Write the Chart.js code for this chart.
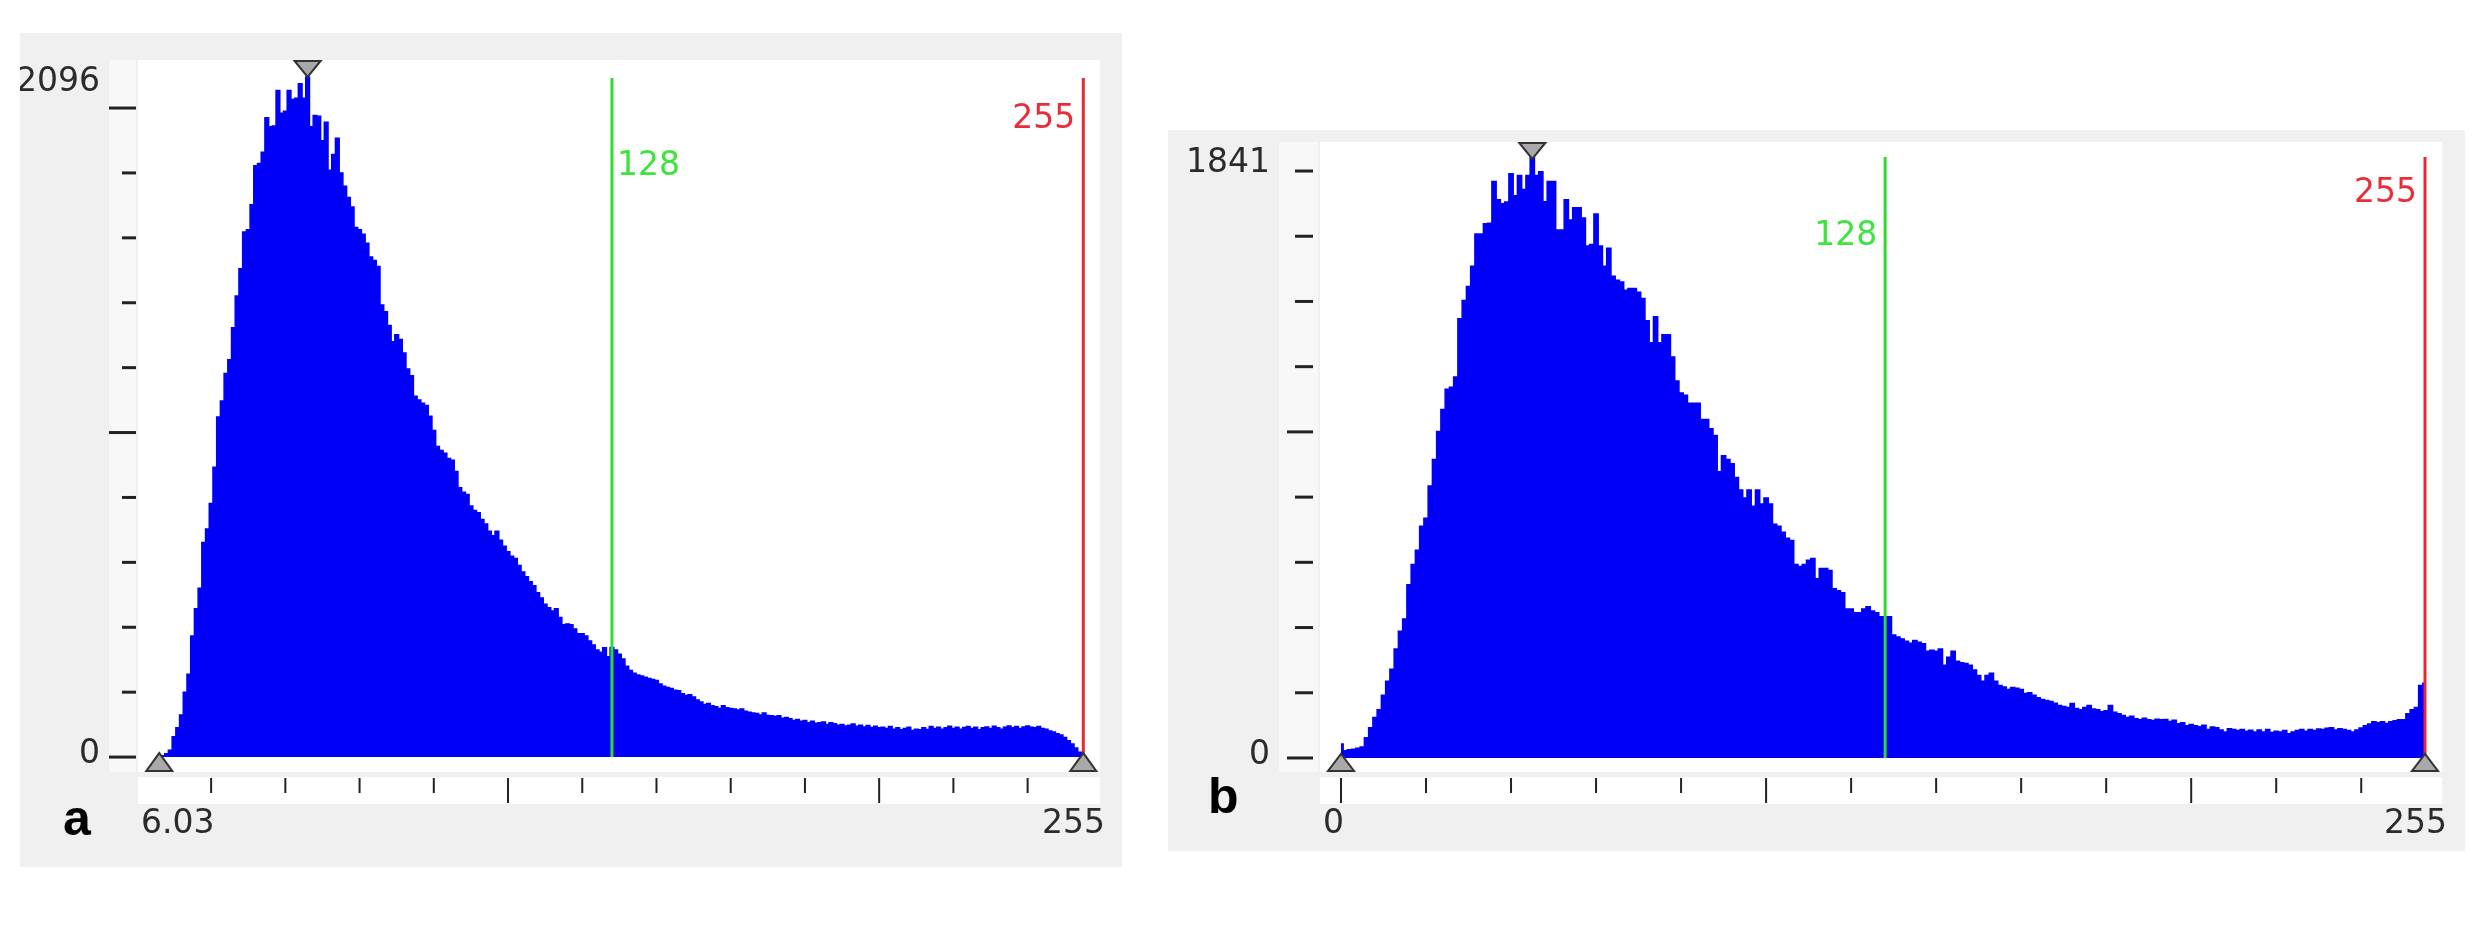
<!DOCTYPE html>
<html lang="en">
<head>
<meta charset="UTF-8">
<title>Histograms a and b</title>
<script src="https://cdn.jsdelivr.net/npm/chart.js"></script>
<style>
  body { margin: 0; width: 2473px; height: 925px; background: #fff; position: relative; overflow: hidden; }
  .panel { position: absolute; background: #f0f0f0; }
  .panel canvas { position: absolute; left: 0; top: 0; }
  .tag { position: absolute; font: bold 50px "Liberation Sans", Arial, sans-serif; line-height: 1; color: #000; }
</style>
</head>
<body>
<div class="panel" style="left:20px;top:33px;width:1102px;height:834px"><canvas id="chartA" width="1102" height="834"></canvas></div>
<div class="panel" style="left:1168px;top:130px;width:1297px;height:721px"><canvas id="chartB" width="1297" height="721"></canvas></div>
<div class="tag" style="left:63px;top:793px">a</div>
<div class="tag" style="left:1208px;top:771px">b</div>
<script>
// ---- data ----
// panel a: grey levels 6..255
const firstLevelA = 6;
const countsA = [
  0, 4, 10, 21, 63, 90, 130, 200, 255, 373,
  457, 520, 661, 703, 781, 893, 1048, 1097, 1182, 1224,
  1323, 1421, 1505, 1618, 1625, 1702, 1822, 1829, 1864, 1970,
  1942, 1945, 2054, 1984, 1990, 2054, 2026, 2030, 2075, 2030,
  2096, 1942, 1977, 1975, 1899, 1956, 1808, 1857, 1907, 1800,
  1759, 1724, 1695, 1632, 1625, 1611, 1583, 1541, 1530, 1512,
  1393, 1372, 1330, 1280, 1301, 1287, 1245, 1196, 1175, 1112,
  1100, 1090, 1083, 1050, 1006, 957, 945, 936, 920, 915,
  880, 830, 816, 809, 774, 760, 753, 732, 718, 696,
  682, 696, 668, 650, 633, 619, 612, 590, 570, 556,
  540, 528, 506, 490, 471, 460, 450, 457, 430, 408,
  410, 408, 395, 380, 380, 373, 358, 345, 330, 323,
  337, 309, 338, 330, 317, 302, 280, 267, 258, 253,
  250, 246, 242, 239, 236, 225, 218, 214, 211, 206,
  204, 195, 190, 192, 185, 176, 170, 162, 165, 158,
  155, 150, 158, 152, 150, 148, 145, 148, 141, 138,
  136, 134, 130, 136, 128, 127, 125, 127, 120, 122,
  118, 113, 116, 110, 113, 106, 110, 104, 106, 108,
  100, 106, 103, 98, 100, 96, 98, 102, 95, 98,
  93, 97, 91, 95, 90, 92, 88, 94, 86, 90,
  84, 88, 92, 82, 86, 84, 90, 85, 94, 88,
  92, 86, 90, 95, 88, 92, 86, 91, 94, 88,
  92, 84, 90, 93, 88, 95, 90, 86, 92, 96,
  90, 94, 88, 93, 96, 92, 90, 94, 88, 86,
  80, 77, 72, 68, 60, 50, 40, 28, 15, 4
];
// panel b: grey levels 0..255
const firstLevelB = 0;
const countsB = [
  43, 22, 25, 27, 30, 34, 62, 93, 124, 148,
  192, 235, 272, 334, 389, 426, 531, 593, 637, 711,
  735, 834, 915, 1001, 1069, 1131, 1137, 1168, 1347, 1403,
  1446, 1508, 1607, 1607, 1638, 1640, 1768, 1712, 1700, 1705,
  1792, 1724, 1786, 1743, 1786, 1841, 1786, 1798, 1706, 1768,
  1768, 1619, 1619, 1712, 1650, 1687, 1687, 1656, 1570, 1575,
  1668, 1570, 1508, 1563, 1477, 1465, 1460, 1434, 1440, 1440,
  1428, 1409, 1341, 1273, 1353, 1273, 1298, 1298, 1230, 1156,
  1119, 1112, 1088, 1088, 1088, 1038, 1038, 1010, 989, 878,
  927, 915, 902, 860, 822, 797, 822, 772, 822, 779,
  797, 779, 717, 711, 692, 674, 667, 593, 587, 593,
  606, 612, 550, 581, 581, 575, 519, 513, 507, 457,
  457, 445, 445, 457, 464, 451, 445, 433, 433, 433,
  377, 371, 365, 358, 352, 360, 355, 350, 327, 330,
  327, 334, 284, 309, 327, 297, 292, 290, 284, 270,
  253, 235, 253, 260, 235, 222, 218, 210, 216, 214,
  210, 198, 200, 192, 185, 179, 176, 173, 168, 161,
  158, 155, 167, 152, 148, 155, 161, 150, 148, 142,
  145, 161, 140, 136, 130, 124, 128, 120, 117, 122,
  117, 115, 119, 117, 118, 112, 116, 105, 108, 99,
  103, 99, 96, 100, 87, 95, 93, 86, 80, 90,
  87, 84, 87, 82, 85, 80, 86, 80, 87, 78,
  82, 80, 84, 74, 80, 84, 87, 82, 87, 84,
  89, 87, 91, 93, 86, 90, 87, 84, 80, 86,
  92, 99, 104, 111, 108, 111, 106, 111, 114, 117,
  117, 136, 148, 155, 222, 229
];

// axis ticks and labels
const yTicksA = [0, 200, 400, 600, 800, 1000, 1200, 1400, 1600, 1800, 2000];
const yTicksB = [0, 200, 400, 600, 800, 1000, 1200, 1400, 1600, 1800];
const yMajor = [0, 1000, 2000];
const xTicksA = [20, 40, 60, 80, 100, 120, 140, 160, 180, 200, 220, 240];
const xTicksB = [0, 20, 40, 60, 80, 100, 120, 140, 160, 180, 200, 220, 240];
const xMajor = [0, 100, 200];
const xRangeA = [6.03, 255];
const xRangeB = [0, 255];
const xEdgeLabelsA = ['6.03', '255'];
const xEdgeLabelsB = ['0', '255'];
const thresholds = [128, 255];

const BLUE = 'rgb(0, 0, 248)';
const FONT = '33px "DejaVu Sans", "Liberation Sans", sans-serif';

function triangle(ctx, cx, y1, y2, half) {
  // flat side at y1, tip at y2
  ctx.beginPath();
  ctx.moveTo(cx - half, y1);
  ctx.lineTo(cx + half, y1);
  ctx.lineTo(cx, y2);
  ctx.closePath();
  ctx.fillStyle = '#a9a9a9';
  ctx.fill();
  ctx.strokeStyle = '#333';
  ctx.lineWidth = 2;
  ctx.stroke();
}

// draws the panel frame, ticks, threshold lines and markers around the histogram
const histDecor = {
  id: 'histDecor',
  beforeDraw(chart, args, o) {
    const { ctx, chartArea: a } = chart;
    ctx.save();
    ctx.fillStyle = '#f0f0f0';
    ctx.fillRect(0, 0, chart.width, chart.height);
    ctx.fillStyle = '#f8f8f8';
    ctx.fillRect(a.left - o.yStrip, a.top, o.yStrip - 2, a.bottom - a.top);
    ctx.fillStyle = '#ffffff';
    ctx.fillRect(a.left, a.top, a.right - a.left, a.bottom - a.top);
    ctx.fillRect(a.left, a.bottom + 5, a.right - a.left, 27);
    ctx.restore();
  },
  afterDatasetsDraw(chart, args, o) {
    const { ctx, chartArea: a, scales: { x, y } } = chart;
    const base = y.getPixelForValue(0);
    ctx.save();

    // y ticks
    ctx.strokeStyle = '#222';
    ctx.lineWidth = 3;
    o.yTicks.forEach(v => {
      const py = y.getPixelForValue(v);
      const len = yMajor.includes(v) ? o.yLong : o.yShort;
      ctx.beginPath();
      ctx.moveTo(a.left - o.yGap - len, py);
      ctx.lineTo(a.left - o.yGap, py);
      ctx.stroke();
    });

    // x ticks in the strip below
    ctx.lineWidth = 2;
    o.xTicks.forEach(v => {
      const px = x.getPixelForValue(v);
      const len = xMajor.includes(v) ? 25 : 15;
      ctx.beginPath();
      ctx.moveTo(px, a.bottom + 6);
      ctx.lineTo(px, a.bottom + 6 + len);
      ctx.stroke();
    });

    // threshold lines
    ctx.font = FONT;
    ctx.textBaseline = 'top';
    thresholds.forEach((v, i) => {
      const st = o.lines[i];
      const px = x.getPixelForValue(v);
      ctx.strokeStyle = st.color;
      ctx.lineWidth = 3;
      ctx.beginPath();
      ctx.moveTo(px, a.top + o.lineTop);
      ctx.lineTo(px, base);
      ctx.stroke();
      ctx.fillStyle = st.text;
      ctx.textAlign = st.side === 'right' ? 'left' : 'right';
      ctx.fillText(String(v), px + (st.side === 'right' ? 5 : -8), a.top + st.dy);
    });

    // markers: peak at top, range ends at bottom
    const counts = o.counts;
    const max = Math.max(...counts);
    const peakX = x.getPixelForValue(o.first + counts.indexOf(max));
    triangle(ctx, peakX, a.top + 1, a.top + 17, 13);
    o.range.forEach(v => {
      triangle(ctx, x.getPixelForValue(v), a.bottom - 1, base - 4, 13);
    });

    // labels
    ctx.fillStyle = '#2b2b2b';
    ctx.textBaseline = 'middle';
    ctx.textAlign = 'right';
    ctx.fillText(String(max), a.left - o.labelGap, y.getPixelForValue(max) + 6);
    ctx.fillText('0', a.left - o.labelGap, base - 3);
    ctx.textAlign = 'left';
    ctx.fillText(o.edgeLabels[0], a.left + 3, a.bottom + 52);
    ctx.textAlign = 'right';
    ctx.fillText(o.edgeLabels[1], a.right + 5, a.bottom + 52);
    ctx.restore();
  }
};

function makeHistogram(id, first, counts, opts) {
  const points = counts.map((c, i) => ({ x: first + i, y: c }));
  return new Chart(document.getElementById(id), {
    type: 'line',
    data: {
      datasets: [{
        data: points,
        stepped: 'middle',
        fill: 'origin',
        backgroundColor: BLUE,
        borderColor: BLUE,
        borderWidth: 1.5,
        pointRadius: 0
      }]
    },
    options: {
      responsive: false,
      animation: false,
      devicePixelRatio: 1,
      layout: { padding: opts.padding },
      plugins: {
        legend: { display: false },
        tooltip: { enabled: false },
        histDecor: Object.assign({ first: first, counts: counts }, opts.decor)
      },
      scales: {
        x: { type: 'linear', display: false, min: opts.xMin, max: opts.xMax },
        y: { display: false, min: opts.yMin, max: opts.yMax }
      }
    },
    plugins: [histDecor]
  });
}

makeHistogram('chartA', firstLevelA, countsA, {
  padding: { left: 118, top: 27, right: 22, bottom: 95 },
  xMin: 0.3, xMax: 259.5, yMin: -46, yMax: 2148,
  decor: {
    yTicks: yTicksA, xTicks: xTicksA, range: xRangeA, edgeLabels: xEdgeLabelsA,
    yStrip: 29, yGap: 2, yShort: 14, yLong: 27, labelGap: 38, lineTop: 18,
    lines: [
      { color: 'rgb(45, 220, 45)', text: 'rgb(60, 228, 60)', side: 'right', dy: 90 },
      { color: 'rgb(232, 40, 48)', text: 'rgb(232, 45, 55)', side: 'left', dy: 43 }
    ]
  }
});

makeHistogram('chartB', firstLevelB, countsB, {
  padding: { left: 152, top: 12, right: 23, bottom: 79 },
  xMin: -4.94, xMax: 259, yMin: -43, yMax: 1889,
  decor: {
    yTicks: yTicksB, xTicks: xTicksB, range: xRangeB, edgeLabels: xEdgeLabelsB,
    yStrip: 41, yGap: 7, yShort: 18, yLong: 26, labelGap: 50, lineTop: 15,
    lines: [
      { color: 'rgb(45, 220, 45)', text: 'rgb(60, 228, 60)', side: 'left', dy: 78 },
      { color: 'rgb(232, 40, 48)', text: 'rgb(232, 45, 55)', side: 'left', dy: 35 }
    ]
  }
});
</script>
</body>
</html>
